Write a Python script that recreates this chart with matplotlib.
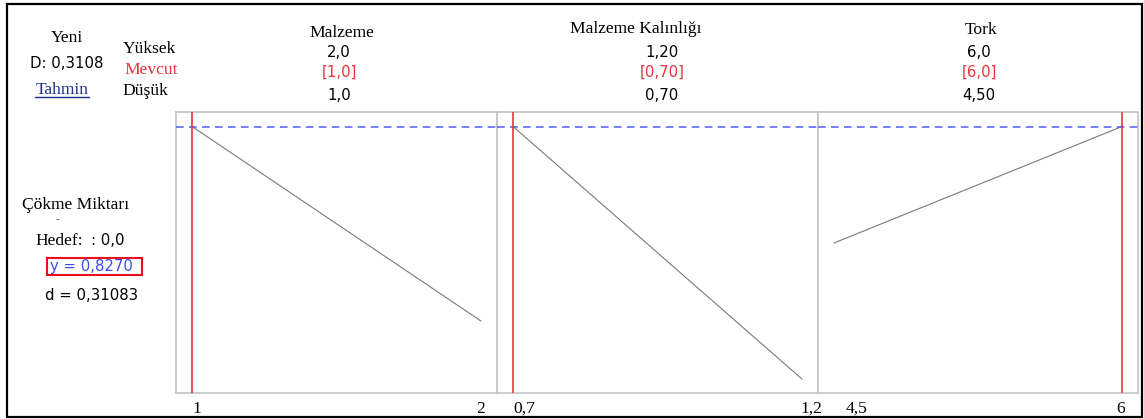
import matplotlib
matplotlib.use("Agg")
import matplotlib.pyplot as plt
from matplotlib.patches import Rectangle
from matplotlib.lines import Line2D
from matplotlib.transforms import ScaledTranslation, blended_transform_factory

# ---- data -------------------------------------------------------------
factors = ["Malzeme", "Malzeme Kalınlığı", "Tork"]
high_labels = ["2,0", "1,20", "6,0"]
current_labels = ["[1,0]", "[0,70]", "[6,0]"]
low_labels = ["1,0", "0,70", "4,50"]
factor_low = [1.0, 0.7, 4.5]
factor_high = [2.0, 1.2, 6.0]
factor_current = [1.0, 0.7, 6.0]
tick_labels = [["1", "2"], ["0,7", "1,2"], ["4,5", "6"]]

response_name = "Çökme Miktarı"
target_text = ": 0,0"
y_current = 0.8270
d_value = "0,31083"
composite_d = "0,3108"
# predicted response at the low / high end of each factor
resp_at_low = [0.8270, 0.8270, 0.7105]
resp_at_high = [0.6325, 0.5745, 0.8270]
y_range = (0.5605, 0.8415)

# ---- style ------------------------------------------------------------
W, H = 1144, 419
SERIF = "Liberation Serif"
SANS = "DejaVu Sans"
SERIF_SIZE = 12.6
SANS_SIZE = 10.7
RED = "#e8353b"
BLUE_DASH = "#4f5ef2"
FRAME = "#c4c4c4"

fig = plt.figure(figsize=(W / 100, H / 100), dpi=100)
fig.patch.set_facecolor("white")


def fx(px):
    return px / W


def fy(py):
    return 1 - py / H


def ftext(x, y, s, font, size, color="black", ha="center", **kw):
    fig.text(fx(x), fy(y), s, fontfamily=font, fontsize=size, color=color,
             ha=ha, va="baseline", **kw)


# outer frame
fig.add_artist(Rectangle((fx(7), fy(417)), fx(1142) - fx(7), fy(4) - fy(417),
                         transform=fig.transFigure, fill=False,
                         edgecolor="black", linewidth=1.6))

# ---- factor panels ----------------------------------------------------
panel_edges = [176, 497, 818, 1138]
top_px, bot_px = 112, 393
label_shift_px = [[5, 0], [11, 9], [23, -1]]

for i in range(3):
    left, right = panel_edges[i], panel_edges[i + 1]
    ax = fig.add_axes([fx(left), fy(bot_px), fx(right) - fx(left),
                       fy(top_px) - fy(bot_px)])
    lo, hi = factor_low[i], factor_high[i]
    pad = (hi - lo) * 16 / 288
    ax.set_xlim(lo - pad, hi + pad)
    ax.set_ylim(*y_range)
    ax.set_xticks([])
    ax.set_yticks([])
    for sp in ax.spines.values():
        sp.set_color(FRAME)
        sp.set_linewidth(1.2)

    ax.plot([lo, hi], [resp_at_low[i], resp_at_high[i]], color="#7a7a7a",
            linewidth=0.8, zorder=2)
    ax.axhline(y_current, color=BLUE_DASH, linewidth=1.1,
               dashes=(5, 3.5), zorder=3)
    ax.axvline(factor_current[i], color=RED, linewidth=1.2, zorder=4)

    trans = blended_transform_factory(ax.transData, fig.transFigure)
    for val, lab, dx in zip([lo, hi], tick_labels[i], label_shift_px[i]):
        t = trans + ScaledTranslation(dx / 100, 0, fig.dpi_scale_trans)
        ax.text(val, fy(413), lab, transform=t, fontfamily=SERIF,
                fontsize=SERIF_SIZE, ha="center", va="baseline",
                clip_on=False)

# ---- header text ------------------------------------------------------
ftext(67, 42, "Yeni", SERIF, SERIF_SIZE)
ftext(67, 68, "D: " + composite_d, SANS, SANS_SIZE)
ftext(62, 94, "Tahmin", SERIF, SERIF_SIZE, color="#1c2f8c")
fig.add_artist(Line2D([fx(35), fx(89)], [fy(96.5), fy(96.5)],
                      transform=fig.transFigure, color="#1c2f8c",
                      linewidth=1.0))

ftext(123, 53, "Yüksek", SERIF, SERIF_SIZE, ha="left")
ftext(124, 74, "Mevcut", SERIF, SERIF_SIZE, color=RED, ha="left")
ftext(122, 95, "Düşük", SERIF, SERIF_SIZE, ha="left")

title_x = [342, 636, 981]
value_x = [339, 662, 979]
title_base = [37, 33, 34]
for i in range(3):
    ftext(title_x[i], title_base[i], factors[i], SERIF, SERIF_SIZE)
    ftext(value_x[i], 57, high_labels[i], SANS, SANS_SIZE)
    ftext(value_x[i], 77, current_labels[i], SANS, SANS_SIZE, color=RED)
    ftext(value_x[i], 100, low_labels[i], SANS, SANS_SIZE)

# ---- response block ---------------------------------------------------
ftext(22, 209, response_name, SERIF, SERIF_SIZE, ha="left")
ftext(57, 222, "-", SANS, 8, ha="center", color="#555555")
ftext(35, 245, "Hedef:", SERIF, SERIF_SIZE, ha="left")
ftext(91, 245, target_text, SANS, SANS_SIZE, ha="left")
ftext(50, 271, f"y = {y_current:.4f}".replace(".", ","), SANS, SANS_SIZE,
      color="#3d4ef0", ha="left")
fig.add_artist(Rectangle((fx(47), fy(275)), fx(142) - fx(47),
                         fy(258) - fy(275), transform=fig.transFigure,
                         fill=False, edgecolor="#e8101a", linewidth=1.5))
ftext(45, 300, "d = " + d_value, SANS, SANS_SIZE, ha="left")

fig.savefig("out.png", dpi=100, facecolor="white")
